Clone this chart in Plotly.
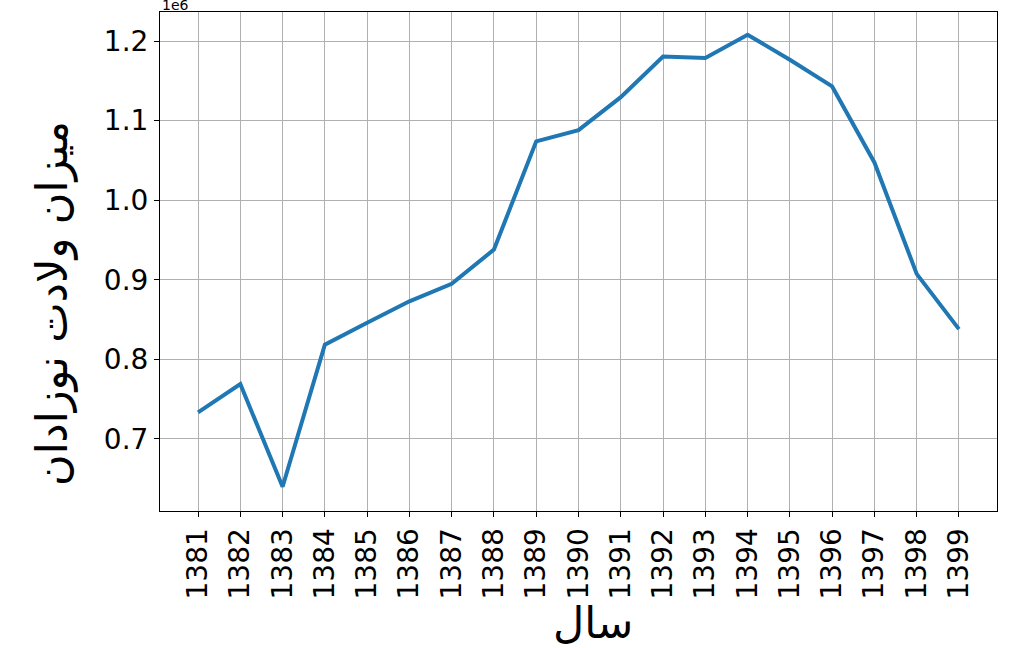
import plotly.graph_objects as go

years = list(range(1381, 1400))
births = [733500, 769000, 640000, 818500, 846000, 873000, 895000, 938000,
          1074000, 1088000, 1129500, 1180500, 1178700, 1208000, 1176500,
          1143000, 1047500, 907500, 838000]
year_labels = [str(y) for y in years]
y_tick_vals = [700000, 800000, 900000, 1000000, 1100000, 1200000]
y_tick_text = ["0.7", "0.8", "0.9", "1.0", "1.1", "1.2"]

x_title = "سال"
y_title = "میزان ولادت نوزادان"

fig = go.Figure()
fig.add_trace(go.Scatter(
    x=years, y=births, mode="lines",
    line=dict(color="#1f77b4", width=4),
    showlegend=False, hoverinfo="x+y",
))

axis_common = dict(
    showline=True, linecolor="black", linewidth=1, mirror=True,
    ticks="outside", ticklen=5, tickwidth=1, tickcolor="black",
    showgrid=True, gridcolor="#b0b0b0", gridwidth=1, zeroline=False,
    tickfont=dict(family="DejaVu Sans", size=28, color="black"),
)

fig.update_layout(
    width=1024, height=648,
    margin=dict(l=160, r=27, t=12, b=137),
    paper_bgcolor="white", plot_bgcolor="white",
    font=dict(family="DejaVu Sans", color="black"),
    xaxis=dict(axis_common, range=[1380.1, 1399.9], tickvals=years,
               ticktext=year_labels, tickangle=-90),
    yaxis=dict(axis_common, range=[609500, 1236500], tickvals=y_tick_vals,
               ticktext=y_tick_text),
    annotations=[
        dict(text=x_title, xref="paper", yref="paper", x=0.517, y=-0.2244,
             xanchor="center", yanchor="middle", showarrow=False,
             font=dict(family="DejaVu Sans", size=43, color="black")),
        dict(text=y_title, xref="paper", yref="paper", x=-0.1278, y=0.415,
             xanchor="center", yanchor="middle", textangle=-90, showarrow=False,
             font=dict(family="DejaVu Sans", size=43, color="black")),
        dict(text="1e6", xref="paper", yref="paper", x=0, y=1,
             xanchor="left", yanchor="bottom", showarrow=False, yshift=-3,
             font=dict(family="DejaVu Sans", size=14, color="black")),
    ],
)

fig.write_html("out.html", config={"displayModeBar": False},
               post_script="document.body.style.margin='0';")
